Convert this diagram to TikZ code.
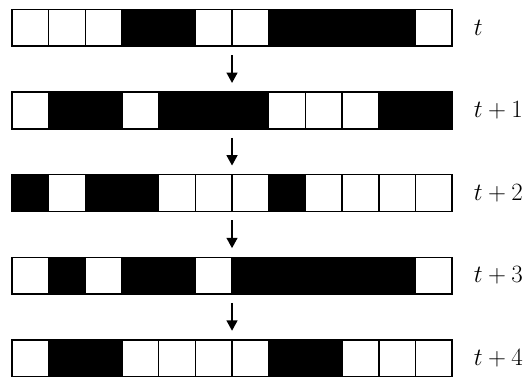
\documentclass[tikz,border=0pt]{standalone}
\usetikzlibrary{arrows.meta}
\begin{document}
\begin{tikzpicture}[x=1pt,y=-1pt,
  cell/.style={draw=black, line width=1.6pt, minimum width=36.67pt, minimum height=36.67pt, inner sep=0pt, outer sep=0pt, anchor=north west},
  s0/.style={fill=white},
  s1/.style={fill=black},
  lab/.style={anchor=west, inner sep=0pt, font=\fontsize{26}{30}\selectfont},
  arr/.style={-{Triangle[length=10.5pt,width=10.5pt]}, line width=2.8pt}]
\useasboundingbox (0,0) rectangle (526,379);
\foreach \pat [count=\r from 0] in {{0,0,0,1,1,0,0,1,1,1,1,0},{0,1,1,0,1,1,1,0,0,0,1,1},{1,0,1,1,0,0,0,1,0,0,0,0},{0,1,0,1,1,0,1,1,1,1,1,0},{0,1,1,0,0,0,0,1,1,0,0,0}} {
  \foreach \v [count=\i from 0] in \pat {
    \node[cell, s\v] (r\r-\i) at ({12+36.67*\i},{9.5+82.6*\r}) {};
  }
}
\foreach \t [count=\r from 0] in {{$t$},{$t+1$},{$t+2$},{$t+3$},{$t+4$}} {
  \node[lab] (l\r) at ([xshift=21.5pt]r\r-11.east) {\t};
}
\foreach \r [evaluate=\r as \n using int(\r+1)] in {0,...,3} {
  \draw[arr] ([yshift=-9pt]r\r-6.south west) -- ([yshift=9pt]r\n-6.north west);
}
\end{tikzpicture}
\end{document}
